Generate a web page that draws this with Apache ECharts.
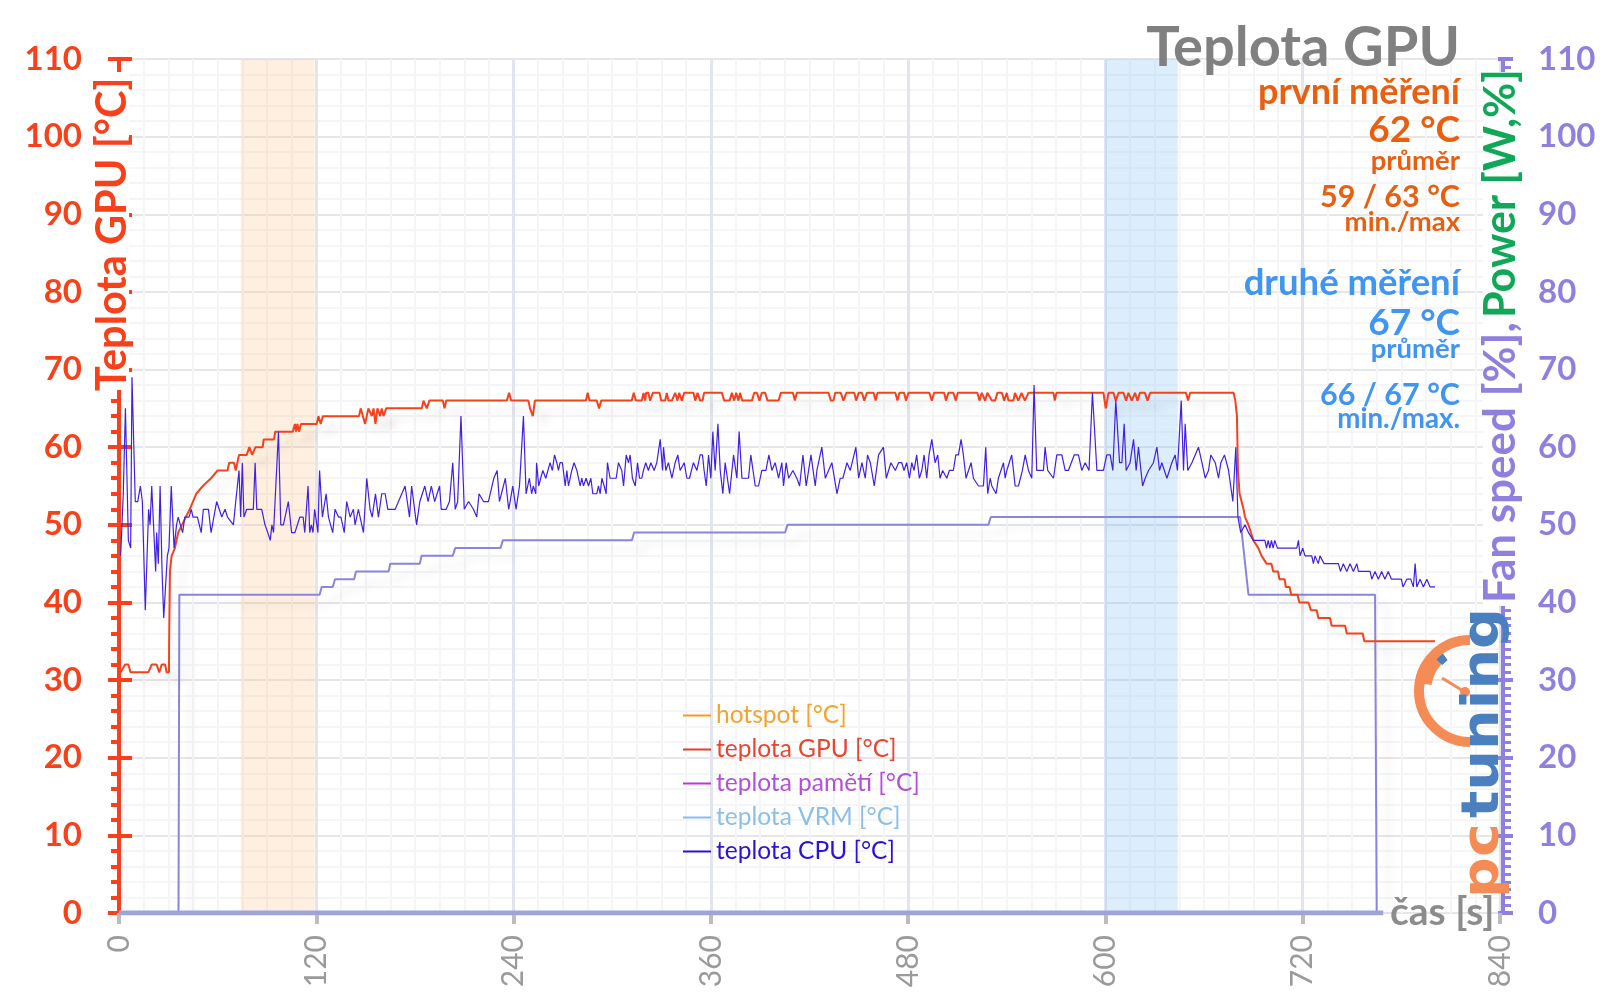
<!DOCTYPE html>
<html>
<head>
<meta charset="utf-8">
<style>
  html, body { margin: 0; padding: 0; background: #fff; }
  #chart { width: 1600px; height: 1008px; }
</style>
<script src="https://cdn.jsdelivr.net/npm/echarts@6/dist/echarts.min.js"></script>
</head>
<body>
<div id="chart"></div>
<script>
const yTicks = [0, 10, 20, 30, 40, 50, 60, 70, 80, 90, 100, 110];
const xTicks = [0, 120, 240, 360, 480, 600, 720, 840];
const firstBand = [74, 119];
const secondBand = [600, 644];

const legendNames = ['hotspot [°C]', 'teplota GPU [°C]', 'teplota pamětí [°C]', 'teplota VRM [°C]', 'teplota CPU [°C]'];
const legendLines = ['#f89a1c', '#e23f22', '#c233e0', '#86bdea', '#2a12d8'];
const legendTexts = ['#f5a32c', '#e8452f', '#b24fd8', '#8cbfe8', '#2a12d8'];

// time [s], temperature [°C]
const gpuTemp = [[1,31],[1.6,31],[3.7,32],[5.7,32],[7,31],[17.8,31],[19.9,32],[22.9,32],[24.5,31],[26,32],[28,32],[29,31],[30.4,31],
  [30.5,35],[31,44],[32,46],[34,47],[36,49],[43,52],[45,53],[47,54],[51,55],[56,56],[60,57],[66,57],[67,58],[70,58],[71,57],[73,59],
  [77.7,59],[79.3,60],[81,59],[83,60],[87.4,60],[88,61],[94.3,61],[95,62],[105.7,62],[107,63],[107.7,62],[108.5,63],[109.5,62],[110.7,63],
  [120.3,63],[121.3,64],[122.7,63],[124,64],[146,64],[147,65],[149.7,63],[151.7,65],[153.8,64],[154.8,65],[156,63],[157.2,65],[158.8,64],
  [159.8,65],[160.9,64],[162.5,65],[184.2,65],[185.2,66],[187.2,65],[188.8,66],[197,66],[198,65],[199,66],[235.9,66],[237.3,67],[238.5,66],
  [249,66],[250,65],[251.7,64],[253,66],[284,66],[285.1,67],[286.2,66],[290.6,66],[292,65],[293.3,66],[311.9,66],[313.1,67],[314.4,66],
  [318,66],[319,67],[320,66],[320.6,67],[322,67],[323,66],[324.7,67],[328.8,67],[329.8,66],[332.2,66],[333.2,67],[334.2,66],[336.3,66],
  [338.3,67],[339.7,66],[340.7,67],[342.3,66],[343.8,67],[349.4,67],[350.5,66],[351.9,67],[353.5,66],[354.9,66],[355.9,67],[366.7,67],
  [368.1,66],[371.4,66],[372.8,67],[374.2,66],[375.4,67],[376.8,66],[377.8,67],[379,66],[385,66],[386.4,67],[388,67],[389.6,66],[391,67],
  [393,67],[394.5,66],[401.2,66],[402.6,67],[409.9,67],[411.1,66],[412.3,67],[431.6,67],[433,66],[434.6,66],[435.6,67],[439,67],[440.7,66],
  [442.4,67],[447.2,67],[448.4,66],[449.9,67],[451.9,67],[453.3,66],[454.9,67],[459,67],[460.2,66],[461.4,67],[472.2,67],[473.5,66],[474.7,67],
  [477.5,67],[478.7,66],[480.2,67],[492.9,67],[494.4,66],[495.8,67],[501.9,67],[503,66],[504.5,67],[507.5,67],[509,66],[510.2,67],[522.1,67],
  [523.4,66],[524.8,67],[526.8,66],[528.2,67],[529.4,67],[530.9,66],[532.9,66],[534.3,67],[537,67],[538.4,66],[540,67],[541,66],[544,66],
  [545,67],[547,66],[549,67],[551,66],[553.2,67],[568.4,67],[569.2,66],[570.2,67],[598.8,67],[600.2,65],[601.9,67],[604.9,67],[606.3,66],
  [608,67],[611,67],[612.6,66],[614,67],[616,66],[618,67],[619.5,66],[621,67],[624,67],[625.6,66],[627.2,67],[649,67],[650.3,66],[651.5,67],
  [678,67],[679,66],[680,64],[680.6,57],[681.6,54],[684,52],[684.9,51],[687,50],[690,48],[693,47],[695,46],[698,45],[701,45],[702,44],[705,44],
  [705.8,43],[709,43],[709.7,42],[712,42],[713,41],[716.8,41],[718,40],[723.5,40],[725,39],[728.5,39],[729.5,38],[736.6,38],[737.6,37],
  [745.8,37],[746.8,36],[756.5,36],[757.5,35],[800.5,35]];

const cpuTemp = [[1,46],[2.6,54],[3.9,65],[5.7,48],[7.1,47],[7.9,69],[9.9,53],[11.4,53],[13,55],[14.2,53],[16,39],[18,52],[18.9,50],[19.9,55],
  [21.1,55],[22.3,44],[22.9,49],[23.9,45],[25,55],[26.2,44],[27.2,38],[29.4,46],[30.4,47],[31.8,55],[33.5,47],[35,50],[36,51],[37,51],[38.7,49],
  [40,51],[42.6,51],[44,52],[45,51],[47.7,51],[50,49],[51.3,52],[54.4,52],[56,49],[59.4,53],[62.5,51],[64.5,52],[66,51],[69.6,50],[71,53],[73,57],
  [74,51],[75,58],[76,51],[77.7,52],[81.7,52],[82.8,58],[83.8,52],[86.8,52],[88.8,50],[90.5,49],[92,48],[93,50],[94,49],[95,49],[97,62],[98.4,50],
  [100,50],[103,53],[105,49],[107,49],[110,51],[112,51],[113,49],[115,55],[116,49],[117,50],[118,49],[119,52],[121,49],[122,57],[123.7,51],[126,54],
  [127.4,51],[130,49],[131.4,52],[133.5,51],[135,51],[137,49],[138.5,53],[140.6,51],[142.6,52],[143.6,50],[145.6,52],[148.7,49],[150.7,56],[152.7,52],
  [154,51],[156,54],[157.8,51],[159.8,54],[161.9,54],[163.5,52],[168,52],[170,53],[174,55],[176.7,51],[178,55],[181,50],[183,53],[186,55],[188,53],
  [190,55],[192,53],[195,55],[196,52],[199,52],[201,53],[203,58],[204.5,52],[206,53],[208,64],[210,52],[212.6,53],[215.6,52],[217.6,51],[219,54],
  [221.7,53],[224.7,53],[228,56],[230,57],[231.4,53],[235,56],[237,52],[237.9,53],[239.5,55],[241.5,52],[243.6,55],[244.8,55],[246,64],[247.6,54],
  [249.6,56],[251,54],[252,55],[253.5,54],[254,58],[255.3,55],[256.5,56],[257.8,57],[259.6,56],[262.2,58],[263.6,57],[264.9,59],[266.3,58],[267.3,57],
  [268.3,58],[269.7,58],[271.4,55],[272.4,57],[273.4,55],[275.4,57],[276.8,58],[278.5,57],[280.5,55],[281.5,56],[282.5,55],[284.1,56],[285.6,55],
  [287,56],[288.2,54],[290.6,54],[291.6,55],[292.7,54],[293.7,56],[295.1,55],[296.3,54],[297.1,58],[298.7,56],[302.4,56],[303.8,58],[305.8,57],
  [306.9,55],[308.5,59],[309.9,58],[310.9,59],[312.3,56],[314,55],[315.4,58],[316.6,56],[318,56],[319,57],[320.4,58],[322,57],[323.5,58],[325.5,57],
  [327.1,58],[329.2,61],[330.6,57],[331.2,60],[332.6,57],[334.2,58],[336.3,56],[338.3,58],[339.9,59],[341.3,57],[343.8,58],[345.4,56],[347,56],
  [349.4,58],[351.5,57],[353.5,59],[354.9,59],[355.9,57],[357.2,55],[358.6,59],[360,56],[361.2,62],[362.6,57],[364.3,63],[365.7,57],[367.3,54],
  [368.7,58],[371.4,54],[373.8,59],[375.8,56],[377.2,62],[378.9,56],[382.9,56],[384.3,59],[387,55],[389,55],[391,57],[393.5,57],[395.3,59],[397.1,57],
  [399.1,58],[401.2,56],[403.2,58],[404.2,55],[405.8,58],[407.3,56],[409.9,57],[412.3,56],[414,55],[416,59],[418,55],[420.9,59],[423.5,55],[424.5,57],
  [427.5,60],[429.6,56],[431.6,57],[433.6,58],[436.7,54],[438.7,56],[440.3,56],[442.8,58],[444.8,57],[448.2,60],[449.9,56],[451.9,58],[453.9,56],
  [455.3,59],[457,58],[459.4,55],[462,59],[465,60],[466.7,56],[469.5,58],[472.2,57],[474.2,58],[476.1,58],[477.5,57],[479.1,58],[480.8,56],[482.2,58],
  [483.6,57],[485.2,59],[486.8,56],[488.3,57],[489.7,59],[491.3,56],[492.7,59],[494.4,61],[496.4,58],[498,59],[499.4,56],[501,57],[503.5,56],[505.1,57],
  [507.5,57],[509,59],[510.6,59],[512.2,61],[513.6,59],[515.2,56],[516.7,57],[518.3,58],[519.7,56],[522.8,55],[525.8,55],[527.2,60],[528.4,54],[529.9,56],
  [530.9,55],[533.5,54],[534.9,56],[538,58],[539,56],[540,57],[543,59],[545.1,55],[547.1,55],[549.5,57],[551.2,59],[553.2,57],[555.2,56],[556.6,68],
  [558.2,57],[562.3,57],[563.3,60],[564.9,57],[568.4,56],[570.4,59],[573.5,59],[575.5,57],[577.5,57],[581,59],[583.6,59],[585.6,57],[587.7,58],[590,57],
  [592.1,67],[594.8,57],[598.8,57],[600.8,59],[602.9,59],[604.5,57],[606.3,66],[608.6,58],[610,58],[611.4,63],[612.6,57],[615,58],[617.1,61],[618.7,57],
  [620.1,60],[622.6,55],[624.2,56],[626.2,57],[629.2,58],[631.3,60],[632.9,57],[634.3,58],[637.4,56],[640.4,58],[642.4,59],[643.8,57],[646.1,66],[647.5,57],
  [648.5,63],[650.1,57],[652.6,58],[654.6,59],[656.6,60],[658.7,58],[660.7,56],[662.7,57],[664.1,59],[666.8,58],[668.8,56],[670.2,58],[672.4,59],[674.9,57],
  [675.9,57],[677.5,53],[679.3,60],[680.6,51],[682.3,49],[684.9,50],[687,49],[690,48],[697,48],[698,47],[699,48],[700,47],[701,48],[702,47],[703,48],
  [704.6,47],[716.4,47],[717.4,48],[718.4,46],[720,47],[721.4,46],[725.5,46],[726.5,45],[727.5,46],[729.5,45],[730.5,46],[733,45],[741.7,45],[743,44],
  [744.7,45],[746.8,44],[748.8,45],[750.8,44],[752.9,45],[753.9,44],[761,44],[762,43],[764,44],[766,43],[768,44],[770,43],[772,44],[774,43],[780,43],
  [781,42],[783.3,43],[785.7,43],[787.3,42],[788.4,45],[789.4,42],[791.4,43],[793.4,42],[795.5,43],[797.5,42],[800.5,42]];

const fanSpeed = [[0,0],[36.2,0],[36.7,41],[122,41],[123.3,42],[130,42],[131.4,43],[143,43],[144.2,44],[164,44],[165,45],[183,45],[184,46],[203,46],
  [204.5,47],[232,47],[233.5,48],[312,48],[313.3,49],[405.2,49],[406.6,50],[528.8,50],[530.3,51],[681.9,51],[687,41],[764,41],[765,0]];
const powerBase = [[0,0],[769,0]];

const notes = [
  { text: 'Teplota GPU', y: 48, size: 56, color: '#808080' },
  { text: 'první měření', y: 92, size: 36, color: '#e8600f' },
  { text: '62 °C', y: 130, size: 37, color: '#e8600f' },
  { text: 'průměr', y: 161, size: 27.5, color: '#e8600f' },
  { text: '59 / 63 °C', y: 197, size: 30.5, color: '#e8600f' },
  { text: 'min./max', y: 222, size: 27.5, color: '#e8600f' },
  { text: 'druhé měření', y: 283, size: 36.5, color: '#3f95f0' },
  { text: '67 °C', y: 323, size: 37, color: '#3f95f0' },
  { text: 'průměr', y: 349, size: 27.5, color: '#3f95f0' },
  { text: '66 / 67 °C', y: 395, size: 30.5, color: '#3f95f0' },
  { text: 'min./max.', y: 419, size: 27.7, color: '#3f95f0' }
];

const FONT = 'Lato';
const RED = '#f8401a';
const LILAC = '#8f80e0';
const chart = echarts.init(document.getElementById('chart'));

const shadow = { shadowColor: 'rgba(0,0,0,0.10)', shadowBlur: 8, shadowOffsetX: 12, shadowOffsetY: 10 };

function line(name, data, color, width, extra) {
  return Object.assign({
    name: name, type: 'line', data: data, symbol: 'none', silent: true,
    lineStyle: Object.assign({ color: color, width: width }), itemStyle: { color: color }
  }, extra || {});
}

function sideText(text, x, y, color, size) {
  return {
    type: 'text', x: x, y: y, rotation: Math.PI / 2, z: 20,
    style: { text: text, align: 'left', verticalAlign: 'bottom', fill: color, font: 'bold ' + size + 'px ' + FONT }
  };
}

const option = {
  animation: false,
  backgroundColor: '#fff',
  grid: { left: 119, right: 100, top: 59, bottom: 95 },
  legend: {
    orient: 'vertical', left: 678, top: 698, itemWidth: 28, itemHeight: 2, itemGap: 9,
    selectedMode: false,
    textStyle: { fontFamily: FONT, fontSize: 24.5, lineHeight: 24 },
    data: legendNames.map((n, i) => ({
      name: n, icon: 'rect', itemStyle: { color: legendLines[i] }, textStyle: { color: legendTexts[i], lineHeight: 23 }
    }))
  },
  xAxis: {
    type: 'value', min: xTicks[0], max: xTicks[xTicks.length - 1], interval: 120,
    axisLine: { show: false },
    axisTick: { show: true, length: 11, lineStyle: { color: '#bcbcbc', width: 4 } },
    axisLabel: { rotate: 90, margin: 22, color: '#9a9a9a', fontFamily: FONT, fontSize: 30 },
    splitLine: { show: true, lineStyle: { color: '#e2e4ee', width: 3 } },
    minorTick: { show: false, splitNumber: 8 },
    minorSplitLine: { show: true, lineStyle: { color: '#f5f5f8', width: 2 } }
  },
  yAxis: [
    {
      type: 'value', position: 'left', min: yTicks[0], max: yTicks[yTicks.length - 1], interval: 10,
      axisLine: { show: true, onZero: false, lineStyle: { color: RED, width: 4 } },
      axisTick: { show: true, length: 11, lineStyle: { color: RED, width: 4 } },
      minorTick: { show: true, splitNumber: 5, length: 8, lineStyle: { color: RED, width: 4 } },
      axisLabel: { margin: 37, color: RED, fontFamily: FONT, fontWeight: 'bold', fontSize: 33 },
      splitLine: { show: true, lineStyle: { color: '#e6e6ea', width: 2 } },
      minorSplitLine: { show: true, lineStyle: { color: '#f5f5f8', width: 2 } }
    },
    {
      type: 'value', position: 'left', min: yTicks[0], max: yTicks[yTicks.length - 1], interval: 10,
      axisLine: { show: false },
      axisTick: { show: true, inside: true, length: 13, lineStyle: { color: RED, width: 4 } },
      axisLabel: { show: false }, splitLine: { show: false }
    },
    {
      type: 'value', position: 'right', offset: 3, min: yTicks[0], max: yTicks[yTicks.length - 1], interval: 10,
      axisLine: { show: true, onZero: false, lineStyle: { color: LILAC, width: 4 } },
      axisTick: { show: true, length: 10, lineStyle: { color: LILAC, width: 4 } },
      minorTick: { show: true, splitNumber: 10, length: 8, lineStyle: { color: LILAC, width: 3 } },
      axisLabel: { margin: 35, color: LILAC, fontFamily: FONT, fontWeight: 'bold', fontSize: 33 },
      splitLine: { show: false }
    },
    {
      type: 'value', position: 'right', offset: 3, min: yTicks[0], max: yTicks[yTicks.length - 1], interval: 10,
      axisLine: { show: false },
      axisTick: { show: true, inside: true, length: 5, lineStyle: { color: LILAC, width: 4 } },
      axisLabel: { show: false }, splitLine: { show: false }
    }
  ],
  series: [
    line('fan', fanSpeed, '#8b84dc', 2, {
      lineStyle: Object.assign({ color: '#8b84dc', width: 2 }, shadow),
      z: 3,
      markArea: {
        silent: true,
        data: [
          [{ xAxis: firstBand[0], itemStyle: { color: 'rgba(250,190,130,0.25)' } }, { xAxis: firstBand[1] }],
          [{ xAxis: secondBand[0], itemStyle: { color: 'rgba(130,190,245,0.28)' } }, { xAxis: secondBand[1] }]
        ]
      }
    }),
    line('power', powerBase, '#9ea4d8', 5, { z: 4 }),
    line(legendNames[0], [], legendLines[0], 2),
    line(legendNames[1], gpuTemp, '#f4421c', 2, {
      z: 5, lineStyle: Object.assign({ color: '#f4421c', width: 2 }, shadow)
    }),
    line(legendNames[2], [], legendLines[2], 2),
    line(legendNames[3], [], legendLines[3], 2),
    line(legendNames[4], cpuTemp, '#3f22e0', 1.2, { z: 6 })
  ],
  graphic: { elements: [
    // axis titles sit on a white patch that hides the axis behind them
    { type: 'rect', z: 19, shape: { x: 96, y: 72, width: 33, height: 318 }, style: { fill: '#fff' } },
    { type: 'rect', z: 19, shape: { x: 1483, y: 72, width: 41, height: 534 }, style: { fill: '#fff' } },
    sideText('Teplota GPU [°C]', 134, 391, RED, 41.5),
    sideText('Fan speed [%],', 1523, 603, LILAC, 44),
    sideText('Power [W,%]', 1523, 318, '#10a858', 43),
    // logo
    { type: 'arc', z: 15, shape: { cx: 1470, cy: 691, r: 51, startAngle: Math.PI / 2, endAngle: Math.PI * 1.5, clockwise: true },
      style: { fill: 'none', stroke: '#f58b55', lineWidth: 10 } },
    { type: 'arc', z: 15, shape: { cx: 1470, cy: 691, r: 47, startAngle: Math.PI * 1.05, endAngle: Math.PI * 1.3, clockwise: true },
      style: { fill: 'none', stroke: '#f58b55', lineWidth: 16 } },
    { type: 'arc', z: 15, shape: { cx: 1470, cy: 691, r: 42, startAngle: Math.PI * 1.24, endAngle: Math.PI * 1.3, clockwise: true },
      style: { fill: 'none', stroke: '#4a80c0', lineWidth: 8 } },
    { type: 'line', z: 15, shape: { x1: 1442, y1: 678, x2: 1465, y2: 692 }, style: { stroke: '#f58b55', lineWidth: 3 } },
    { type: 'circle', z: 15, shape: { cx: 1465, cy: 692, r: 5 }, style: { fill: '#f58b55' } },
    { type: 'text', z: 16, x: 1510, y: 898, rotation: Math.PI / 2, scaleX: 1.1,
      style: { text: 'pc', align: 'left', verticalAlign: 'bottom', fill: '#f58b55', font: 'bold 52px "DejaVu Sans"' } },
    { type: 'text', z: 16, x: 1510, y: 818, rotation: Math.PI / 2, scaleX: 1.1,
      style: { text: 'tuning', align: 'left', verticalAlign: 'bottom', fill: '#4a80c0', font: 'bold 52px "DejaVu Sans"' } },
    { type: 'text', z: 17, x: 1390, y: 912,
      style: { text: 'čas [s]', align: 'left', verticalAlign: 'middle', fill: '#8c8c8c', font: 'bold 39px ' + FONT } }
  ].concat(notes.map(n => ({
    type: 'text', z: 18, x: 1460, y: n.y,
    style: { text: n.text, align: 'right', verticalAlign: 'middle', fill: n.color, font: 'bold ' + n.size + 'px ' + FONT }
  }))) }
};

chart.setOption(option);
</script>
</body>
</html>
